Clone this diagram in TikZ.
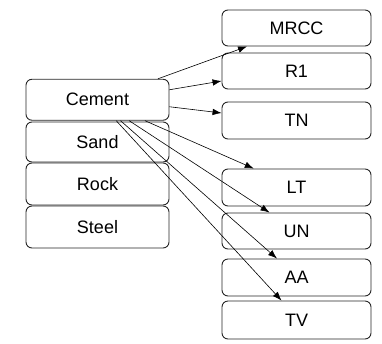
\documentclass[tikz,border=0pt]{standalone}
\usepackage{fontspec}
\setmainfont{Liberation Sans}
\usetikzlibrary{arrows.meta,calc}
\begin{document}
\begin{tikzpicture}[x=1pt,y=-1pt,
 box/.style={draw=black!85, line width=0.9pt, rounded corners=6pt, inner sep=0pt, font=\fontsize{18}{21}\selectfont},
 lbox/.style={box, minimum width=143pt},
 rbox/.style={box, minimum width=149pt},
 arr/.style={-{Latex[length=9pt,width=6.5pt]}, line width=0.6pt}]
\useasboundingbox (0,0) rectangle (382,343);
\node[lbox, minimum height=41pt] (cement) at (97.5,99.75) {Cement};
\node[lbox, minimum height=40pt] (sand) at (97.5,142) {Sand};
\node[lbox, minimum height=42pt] (rock) at (97.5,184) {Rock};
\node[lbox, minimum height=42pt] (steel) at (97.5,227) {Steel};
\node[rbox, minimum height=36pt] (mrcc) at (296.5,28) {MRCC};
\node[rbox, minimum height=36pt] (r1) at (296.5,71) {R1};
\node[rbox, minimum height=37pt] (tn) at (296.5,120.5) {TN};
\node[rbox, minimum height=37pt] (lt) at (296.5,187.5) {LT};
\node[rbox, minimum height=36pt] (un) at (296.5,231) {UN};
\node[rbox, minimum height=37pt] (aa) at (296.5,277.5) {AA};
\node[rbox, minimum height=38pt] (tv) at (296.5,320) {TV};
\draw[arr] ($(cement.north west)!0.92!(cement.north east)$) -- ($(mrcc.south west)!0.17!(mrcc.south east)$);
\draw[arr] ([yshift=10pt]cement.east) -- ([yshift=-10pt]r1.west);
\draw[arr] ([yshift=-7pt]cement.east) -- ([yshift=7.5pt]tn.west);
\draw[arr] ($(cement.south west)!0.83!(cement.south east)$) -- ($(lt.north west)!0.215!(lt.north east)$);
\draw[arr] ($(cement.south west)!0.72!(cement.south east)$) -- ($(un.north west)!0.32!(un.north east)$);
\draw[arr] ($(cement.south west)!0.66!(cement.south east)$) -- ($(aa.north west)!0.37!(aa.north east)$);
\draw[arr] ($(cement.south west)!0.63!(cement.south east)$) -- ($(tv.north west)!0.40!(tv.north east)$);
\end{tikzpicture}
\end{document}
